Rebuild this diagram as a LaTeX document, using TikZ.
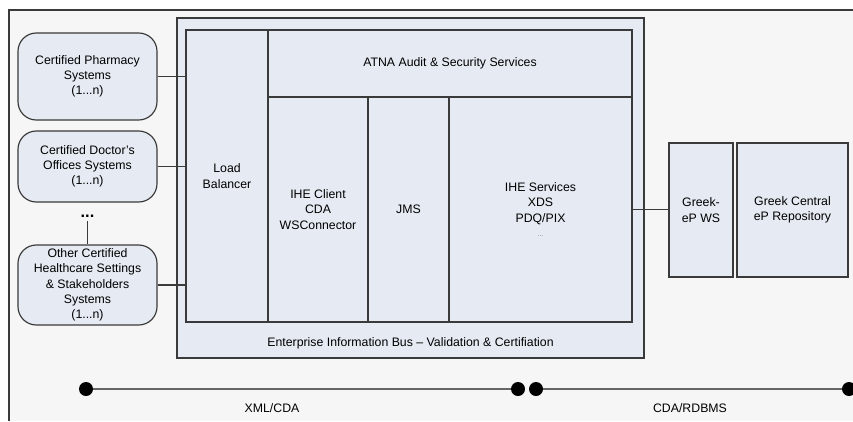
\documentclass[tikz,border=0pt]{standalone}
\usepackage{fontspec}
\setsansfont{Liberation Sans}
\usepackage{xcolor}
\definecolor{linegray}{HTML}{3A3A3A}
\definecolor{boxblue}{HTML}{E6EBF3}
\definecolor{bggray}{HTML}{F6F6F6}

\begin{document}
\begin{tikzpicture}[x=0.03cm,y=-0.03cm,
      every node/.style={font=\sffamily\fontsize{10.5}{13}\selectfont,align=center,inner sep=0pt},
      sz/.style 2 args={minimum width=#1*0.3mm,minimum height=#2*0.3mm},
      blk/.style={draw=linegray,fill=boxblue,line width=1pt},
      sys/.style={blk,rounded corners=0.55cm},
      wire/.style={draw=linegray,line width=1pt},
      dot/.style={circle,fill=black,minimum size=4.2mm}]

      \useasboundingbox (0,0) rectangle (853,421);
      % frame and background
      \fill[bggray] (9,10) rectangle (853,421);
      \draw[linegray,line width=0.9pt] (9,421) -- (9,10) -- (853,10);

      % enterprise information bus
      \node[blk,sz={467}{340}] (bus) at (410.5,188) {};
      \node (busl) at (410.5,343) {Enterprise Information Bus -- Validation \& Certifiation};
      \node[blk,sz={82}{292}] (lb) at (227,176) {Load\\Balancer};
      \node[blk,sz={364}{67}] (atna) at (450,63.5) {ATNA Audit \& Security Services};
      \node[blk,sz={100}{225}] (client) at (318,209.5) {IHE Client\\CDA\\WSConnector};
      \node[blk,sz={81}{225}] (jms) at (408.5,209.5) {JMS};
      \node[blk,sz={183}{225}] (svc) at (540.5,209.5)
        {IHE Services\\XDS\\PDQ/PIX\\[-1pt]{\color{gray}\fontsize{6}{7}\selectfont ...}};

      % certified systems
      \node[sys,sz={139}{87}] (pharm) at (87.5,76.5) {Certified Pharmacy\\Systems\\(1...n)};
      \node[sys,sz={139}{71}] (doc) at (87.5,166.5) {Certified Doctor's\\Offices Systems\\(1...n)};
      \node[font=\sffamily\bfseries\fontsize{14}{14}\selectfont] (more) at (87.5,216) {...};
      \node[sys,sz={139}{80}] (other) at (87.5,285)
        {Other Certified\\Healthcare Settings\\\& Stakeholders\\Systems\\(1...n)};

      % greek side
      \node[blk,sz={64}{134}] (gws) at (701,210) {Greek-\\eP WS};
      \node[blk,sz={111}{134}] (repo) at (792.5,210) {Greek Central\\eP Repository};

      % connectors
      \draw[wire] (pharm.east) -- (pharm.east -| lb.west);
      \draw[wire] (doc.east) -- (doc.east -| lb.west);
      \draw[wire] (other.east) -- (other.east -| lb.west);
      \draw[wire] ([yshift=-3pt]more.south) -- (other.north);
      \draw[wire] (svc.east) -- (svc.east -| gws.west);

      % protocol line
      \node[dot] (d1) at (86,389) {};
      \node[dot] (d2) at (518,389) {};
      \node[dot] (d3) at (536,389) {};
      \node[dot] (d4) at (849,389) {};
      \draw[gray!80!black,line width=1.4pt] (d1) -- (d2);
      \draw[gray!80!black,line width=1.4pt] (d3) -- (d4);
      \node (xml) at (272,408) {XML/CDA};
      \node (rdbms) at (690,408) {CDA/RDBMS};
    \end{tikzpicture}
\end{document}
